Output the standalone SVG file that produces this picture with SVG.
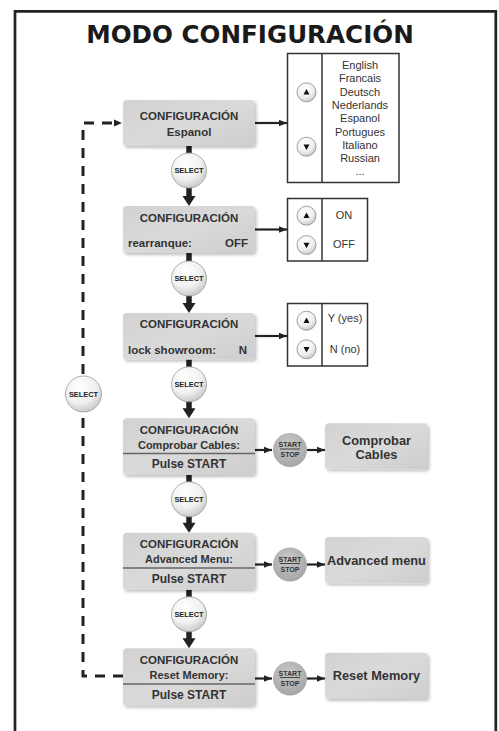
<svg xmlns="http://www.w3.org/2000/svg" width="499" height="731" viewBox="0 0 499 731">
<defs>
  <linearGradient id="boxg" x1="0" y1="0" x2="1" y2="1">
    <stop offset="0" stop-color="#d2d2d2"/>
    <stop offset="0.5" stop-color="#dadada"/>
    <stop offset="1" stop-color="#cdcdcd"/>
  </linearGradient>
  <radialGradient id="selg" cx="0.4" cy="0.3" r="0.75">
    <stop offset="0" stop-color="#ffffff"/>
    <stop offset="0.6" stop-color="#f0f0f0"/>
    <stop offset="1" stop-color="#c4c4c4"/>
  </radialGradient>
  <radialGradient id="ssg" cx="0.45" cy="0.35" r="0.7">
    <stop offset="0" stop-color="#c9c9c9"/>
    <stop offset="1" stop-color="#a3a3a3"/>
  </radialGradient>
  <filter id="sh" x="-10%" y="-10%" width="125%" height="130%">
    <feDropShadow dx="1.5" dy="2" stdDeviation="1.5" flood-color="#000" flood-opacity="0.25"/>
  </filter>
  <marker id="ah" markerUnits="userSpaceOnUse" markerWidth="8" markerHeight="8" viewBox="0 0 8 8" refX="8" refY="4" orient="auto">
    <path d="M0,0.8 L8,4 L0,7.2 Z" fill="#222"/>
  </marker>
  <style>
    .box{fill:url(#boxg);filter:url(#sh);}
    .t{font-family:"Liberation Sans",Arial,sans-serif;font-weight:bold;fill:#333;}
    .h{font-size:11.5px;text-anchor:middle;}
    .s{font-size:11px;}
    .big{font-size:12.8px;text-anchor:middle;}
    .lang{font-family:"Liberation Sans",Arial,sans-serif;font-size:11px;fill:#333;text-anchor:middle;}
    .sel{fill:url(#selg);stroke:#9a9a9a;stroke-width:0.8;}
    .selt{font-family:"Liberation Sans",Arial,sans-serif;font-weight:bold;font-size:7.4px;fill:#222;text-anchor:middle;}
    .ss{fill:url(#ssg);}
    .sst{font-family:"Liberation Sans",Arial,sans-serif;font-weight:bold;font-size:7px;fill:#333;text-anchor:middle;}
    .panel{fill:#fff;stroke:#333;stroke-width:1.5;}
    .btn{fill:url(#selg);stroke:#8a8a8a;stroke-width:0.8;}
    .tri{fill:#111;}
    .div{stroke:#666;stroke-width:1.5;}
    .line{stroke:#222;stroke-width:2.2;fill:none;marker-end:url(#ah);}
    .dash{stroke:#222;stroke-width:3;fill:none;stroke-dasharray:10 8;}
    .stub{stroke:#222;stroke-width:5.5;}
    .varr{fill:#222;}
  </style>
</defs>

<rect x="0" y="0" width="499" height="731" fill="#fff"/>

<!-- border -->
<path d="M15 731 V11.3 H495.8 V731" fill="none" stroke="#222" stroke-width="2.7"/>

<text x="250" y="43" text-anchor="middle" font-family="'DejaVu Sans',Verdana,sans-serif" font-weight="bold" font-size="24.6" fill="#1a1a1a">MODO CONFIGURACIÓN</text>

<!-- connectors -->
<g id="connectors">
  <path class="dash" d="M123 676 H83 V123 H114"/>
  <path d="M114 119.5 L122 123 L114 126.5 Z" fill="#222"/>
  <!-- horizontal arrows to panels -->
  <path class="line" d="M255 123 H287"/>
  <path class="line" d="M255 229.5 H287"/>
  <path class="line" d="M255 336 H287"/>
  <!-- to start/stop and result boxes -->
  <path class="line" d="M255 450 H272"/>
  <path class="line" d="M307 450 H325"/>
  <path class="line" d="M255 564.5 H272"/>
  <path class="line" d="M307 564.5 H325"/>
  <path class="line" d="M255 678.5 H272"/>
  <path class="line" d="M307 678.5 H325"/>
  <!-- vertical select flows -->
  <line class="stub" x1="189" y1="146" x2="189" y2="154"/>
  <line class="stub" x1="189" y1="187" x2="189" y2="198"/>
  <path class="varr" d="M182.5 196 H195.5 L189 206 Z"/>

  <line class="stub" x1="189" y1="253" x2="189" y2="262"/>
  <line class="stub" x1="189" y1="295" x2="189" y2="305"/>
  <path class="varr" d="M182.5 303 H195.5 L189 313 Z"/>

  <line class="stub" x1="189" y1="359.5" x2="189" y2="368"/>
  <line class="stub" x1="189" y1="401" x2="189" y2="410"/>
  <path class="varr" d="M182.5 408.3 H195.5 L189 418.3 Z"/>

  <line class="stub" x1="189" y1="475" x2="189" y2="483"/>
  <line class="stub" x1="189" y1="516" x2="189" y2="525"/>
  <path class="varr" d="M182.5 522.7 H195.5 L189 532.7 Z"/>

  <line class="stub" x1="189" y1="589.7" x2="189" y2="598"/>
  <line class="stub" x1="189" y1="631" x2="189" y2="640"/>
  <path class="varr" d="M182.5 638.3 H195.5 L189 648.3 Z"/>
</g>

<!-- select buttons -->
<g id="select1"><circle class="sel" cx="189" cy="170.5" r="17.5"/><text class="selt" x="189" y="173.2">SELECT</text></g>
<g id="select2"><circle class="sel" cx="189" cy="278.5" r="17.5"/><text class="selt" x="189" y="281.2">SELECT</text></g>
<g id="select3"><circle class="sel" cx="189" cy="384.3" r="17.5"/><text class="selt" x="189" y="387">SELECT</text></g>
<g id="select4"><circle class="sel" cx="189" cy="499.3" r="17.5"/><text class="selt" x="189" y="502">SELECT</text></g>
<g id="select5"><circle class="sel" cx="189" cy="614.3" r="17.5"/><text class="selt" x="189" y="617">SELECT</text></g>
<g id="selectBack"><circle class="sel" cx="83.5" cy="394" r="18"/><text class="selt" x="83.5" y="396.7">SELECT</text></g>

<!-- box 1 -->
<g id="box1">
  <rect class="box" x="123" y="100" width="132" height="46" rx="4"/>
  <text class="t h" x="189" y="119.5">CONFIGURACIÓN</text>
  <text class="t h" x="189" y="135.5">Espanol</text>
</g>
<g id="panel1">
  <rect class="panel" x="287.5" y="53.5" width="111.5" height="129"/>
  <line x1="322" y1="53.5" x2="322" y2="182.5" stroke="#333" stroke-width="1.5"/>
  <circle class="btn" cx="306.5" cy="92.3" r="9.5"/><path class="tri" d="M306.5 89 L309.5 94.5 H303.5 Z"/>
  <circle class="btn" cx="306.5" cy="146.7" r="9.5"/><path class="tri" d="M306.5 150 L309.5 144.5 H303.5 Z"/>
  <text class="lang" x="360" y="69">English</text>
  <text class="lang" x="360" y="82.3">Francais</text>
  <text class="lang" x="360" y="95.6">Deutsch</text>
  <text class="lang" x="360" y="108.9">Nederlands</text>
  <text class="lang" x="360" y="122.2">Espanol</text>
  <text class="lang" x="360" y="135.5">Portugues</text>
  <text class="lang" x="360" y="148.8">Italiano</text>
  <text class="lang" x="360" y="162.1">Russian</text>
  <text class="lang" x="360" y="175.4">...</text>
</g>

<!-- box 2 -->
<g id="box2">
  <rect class="box" x="123" y="206" width="132" height="47" rx="4"/>
  <text class="t h" x="189" y="221.5">CONFIGURACIÓN</text>
  <text class="t" x="128" y="247" font-size="11.5">rearranque:</text>
  <text class="t" x="248" y="247" font-size="11.5" text-anchor="end">OFF</text>
</g>
<g id="panel2">
  <rect class="panel" x="287.5" y="198.5" width="80" height="62.5"/>
  <line x1="322" y1="198.5" x2="322" y2="261" stroke="#333" stroke-width="1.5"/>
  <circle class="btn" cx="306.5" cy="215.7" r="9.5"/><path class="tri" d="M306.5 212.4 L309.5 217.9 H303.5 Z"/>
  <circle class="btn" cx="306.5" cy="245" r="9.5"/><path class="tri" d="M306.5 248.3 L309.5 242.8 H303.5 Z"/>
  <text class="lang" x="344" y="218.5">ON</text>
  <text class="lang" x="344" y="247.5">OFF</text>
</g>

<!-- box 3 -->
<g id="box3">
  <rect class="box" x="123" y="313" width="132" height="46.5" rx="4"/>
  <text class="t h" x="189" y="328">CONFIGURACIÓN</text>
  <text class="t" x="128" y="353.5" font-size="11.5">lock showroom:</text>
  <text class="t" x="247" y="353.5" font-size="11.5" text-anchor="end">N</text>
</g>
<g id="panel3">
  <rect class="panel" x="287.5" y="303.5" width="80" height="62.5"/>
  <line x1="322" y1="303.5" x2="322" y2="366" stroke="#333" stroke-width="1.5"/>
  <circle class="btn" cx="306.5" cy="320.7" r="9.5"/><path class="tri" d="M306.5 317.4 L309.5 322.9 H303.5 Z"/>
  <circle class="btn" cx="306.5" cy="349.3" r="9.5"/><path class="tri" d="M306.5 352.6 L309.5 347.1 H303.5 Z"/>
  <text class="lang" x="345" y="322">Y (yes)</text>
  <text class="lang" x="345" y="353">N (no)</text>
</g>

<!-- box 4 -->
<g id="box4">
  <rect class="box" x="123" y="418.3" width="132" height="56.7" rx="4"/>
  <text class="t h" x="189" y="433.5">CONFIGURACIÓN</text>
  <text class="t s" x="189" y="448.5" text-anchor="middle">Comprobar Cables:</text>
  <line class="div" x1="123" y1="453.5" x2="255" y2="453.5"/>
  <text class="t" x="189" y="468" font-size="12" text-anchor="middle">Pulse START</text>
</g>
<g id="ss1"><circle class="ss" cx="290" cy="450" r="17"/>
  <text class="sst" x="290" y="447">START</text><line x1="280" y1="449" x2="300" y2="449" stroke="#333" stroke-width="0.9"/><text class="sst" x="290" y="457">STOP</text></g>
<g id="res1">
  <rect class="box" x="325" y="423.3" width="103" height="46" rx="4"/>
  <text class="t big" x="376.5" y="444.5">Comprobar</text>
  <text class="t big" x="376.5" y="458.5">Cables</text>
</g>

<!-- box 5 -->
<g id="box5">
  <rect class="box" x="123" y="532.7" width="132" height="57" rx="4"/>
  <text class="t h" x="189" y="548">CONFIGURACIÓN</text>
  <text class="t s" x="189" y="563" text-anchor="middle">Advanced Menu:</text>
  <line class="div" x1="123" y1="568" x2="255" y2="568"/>
  <text class="t" x="189" y="582.5" font-size="12" text-anchor="middle">Pulse START</text>
</g>
<g id="ss2"><circle class="ss" cx="290" cy="564.5" r="17"/>
  <text class="sst" x="290" y="561.5">START</text><line x1="280" y1="563.5" x2="300" y2="563.5" stroke="#333" stroke-width="0.9"/><text class="sst" x="290" y="571.5">STOP</text></g>
<g id="res2">
  <rect class="box" x="325" y="537" width="103" height="46.3" rx="4"/>
  <text class="t big" x="376.5" y="564.5">Advanced menu</text>
</g>

<!-- box 6 -->
<g id="box6">
  <rect class="box" x="123" y="648.3" width="132" height="57.4" rx="4"/>
  <text class="t h" x="189" y="664">CONFIGURACIÓN</text>
  <text class="t s" x="189" y="679" text-anchor="middle">Reset Memory:</text>
  <line class="div" x1="123" y1="684" x2="255" y2="684"/>
  <text class="t" x="189" y="698.5" font-size="12" text-anchor="middle">Pulse START</text>
</g>
<g id="ss3"><circle class="ss" cx="290" cy="678.5" r="17"/>
  <text class="sst" x="290" y="675.5">START</text><line x1="280" y1="677.5" x2="300" y2="677.5" stroke="#333" stroke-width="0.9"/><text class="sst" x="290" y="685.5">STOP</text></g>
<g id="res3">
  <rect class="box" x="325" y="652.7" width="103" height="46.3" rx="4"/>
  <text class="t big" x="376.5" y="680">Reset Memory</text>
</g>
</svg>
